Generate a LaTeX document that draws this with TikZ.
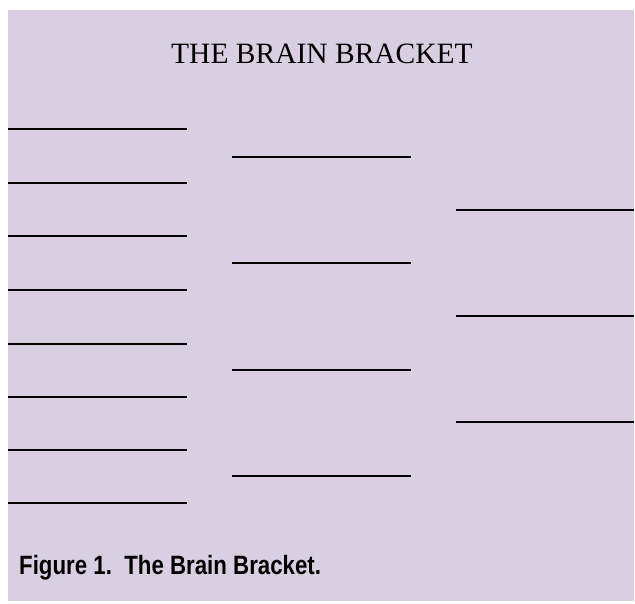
\documentclass[tikz,border=0pt]{standalone}
\usepackage{fontspec}
\setmainfont{Liberation Serif}
\newfontfamily\capfont[FakeStretch=0.84]{Liberation Sans}
\usepackage{xcolor}
\definecolor{lavender}{RGB}{218,207,226}

\begin{document}
\begin{tikzpicture}[
    x=1pt, y=-1pt,
    title/.style={anchor=base, font=\fontsize{29.5}{32}\selectfont},
    caption/.style={anchor=base west, inner sep=0pt, font=\capfont\bfseries\fontsize{26.5}{29}\selectfont},
    slot/.style={line width=1.4pt}
]
    \useasboundingbox (0,0) rectangle (635,603);
    \fill[lavender] (8,10) rectangle (634,601);

    \node[title] (title) at (322,63.5) {THE BRAIN BRACKET};

    % first round
    \foreach \y in {129,183,236,290,344,397,450,503}
        \draw[slot] (8,\y) -- ++(179,0);
    % second round
    \foreach \y in {157,263,370,476}
        \draw[slot] (232,\y) -- ++(179,0);
    % third round
    \foreach \y in {210,316,422}
        \draw[slot] (456,\y) -- ++(178,0);

    \node[caption] (caption) at (19,574) {Figure 1.\ \ The Brain Bracket.};
\end{tikzpicture}
\end{document}
